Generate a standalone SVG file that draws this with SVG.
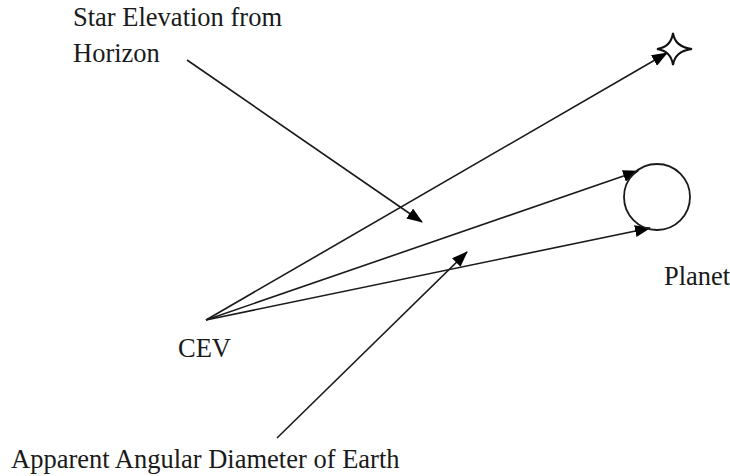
<svg xmlns="http://www.w3.org/2000/svg" width="730" height="476" viewBox="0 0 730 476">
<style>
.ln{stroke:#1a1a1a;stroke-width:1.6;fill:none;marker-end:url(#ah)}
.t{font-family:"Liberation Serif","Times New Roman",serif;font-size:26.5px;fill:#1a1a1a}
</style>
<defs>
<marker id="ah" viewBox="0 0 16 12" refX="15" refY="6" markerWidth="16" markerHeight="12" markerUnits="userSpaceOnUse" orient="auto">
<path d="M0,0 L16,6 L0,12 Z" fill="#000"/>
</marker>
</defs>
<rect width="730" height="476" fill="#fff"/>
<g id="connectors">
<line class="ln" x1="206" y1="320" x2="667" y2="53"/>
<line class="ln" x1="206" y1="320" x2="638" y2="171"/>
<line class="ln" x1="206" y1="320" x2="650" y2="228"/>
<line class="ln" x1="187" y1="60" x2="422" y2="222"/>
<line class="ln" x1="277" y1="438" x2="467" y2="252"/>
</g>
<g id="star">
<path d="M673,33 Q675,47 692,49 Q675,51 673,65 Q671,51 657,49 Q671,47 673,33 Z" fill="#fff" stroke="#111" stroke-width="2"/>
</g>
<g id="planet">
<circle cx="657" cy="197" r="33" fill="none" stroke="#1a1a1a" stroke-width="1.8"/>
<text class="t" x="664" y="285">Planet</text>
</g>
<g id="cev">
<text class="t" x="178" y="357">CEV</text>
</g>
<g id="label-star">
<text class="t" x="73" y="26">Star Elevation from</text>
<text class="t" x="73" y="62">Horizon</text>
</g>
<g id="label-earth">
<text class="t" x="11" y="468">Apparent Angular Diameter of Earth</text>
</g>
</svg>
